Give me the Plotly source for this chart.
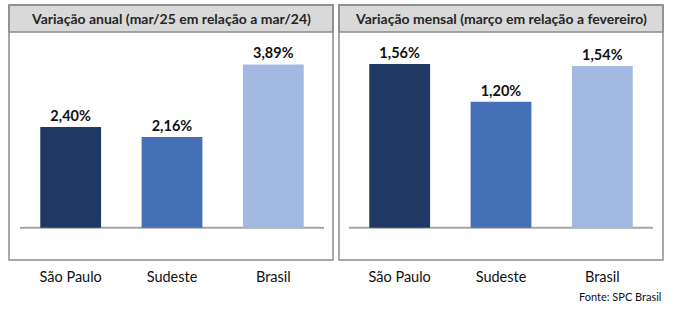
import plotly.graph_objects as go

# Data
regions = ["São Paulo", "Sudeste", "Brasil"]
annual_change = [2.40, 2.16, 3.89]
monthly_change = [1.56, 1.20, 1.54]
bar_colors = ["#203864", "#4470b8", "#a3b9e1"]
titles = ["Variação anual (mar/25 em relação a mar/24)",
          "Variação mensal (março em relação a fevereiro)"]
source_note = "Fonte: SPC Brasil"

W, H = 685, 322
FONT = "Lato"


def px_x(v):
    return v / W


def px_y(v):
    return 1 - v / H


def fmt(v):
    return f"{v:.2f}%".replace(".", ",")


fig = go.Figure()

panels = [
    # (values, box left, box right, axis left, axis right, y range)
    (annual_change, 9, 333, 20, 324, [-0.770, 4.664]),
    (monthly_change, 339, 663, 349, 653, [-0.3076, 1.864]),
]

box_top, head_bottom, box_bottom = 5, 32, 260

for i, (vals, bl, br, al, ar, yr) in enumerate(panels, start=1):
    xa = "x" if i == 1 else f"x{i}"
    ya = "y" if i == 1 else f"y{i}"
    fig.add_trace(go.Bar(
        x=regions, y=vals, xaxis=xa, yaxis=ya,
        marker=dict(color=bar_colors, line=dict(width=0)),
        width=0.6,
        text=[fmt(v) for v in vals],
        textposition="outside",
        textfont=dict(family=FONT, size=14.5, color="#111111", weight="bold"),
        cliponaxis=False,
        showlegend=False,
        hoverinfo="skip",
    ))
    xkey = "xaxis" if i == 1 else f"xaxis{i}"
    ykey = "yaxis" if i == 1 else f"yaxis{i}"
    fig.update_layout({
        xkey: dict(domain=[px_x(al), px_x(ar)], range=[-0.5, 2.5],
                   anchor=ya, showgrid=False, zeroline=False, showline=False,
                   ticks="", ticklabelstandoff=6,
                   tickfont=dict(family=FONT, size=14.5, color="#111111")),
        ykey: dict(domain=[px_y(box_bottom), px_y(head_bottom)], range=yr,
                   anchor=xa, visible=False, showgrid=False, zeroline=False),
    })
    # zero baseline
    fig.add_shape(type="line", xref=xa, yref=ya, x0=-0.5, x1=2.5, y0=0, y1=0,
                  line=dict(color="#a6a6a6", width=2), layer="below")
    # title band
    fig.add_shape(type="rect", xref="paper", yref="paper",
                  x0=px_x(bl), x1=px_x(br), y0=px_y(head_bottom), y1=px_y(box_top),
                  fillcolor="#d9d9d9", line=dict(color="#8c8c8c", width=1.5),
                  layer="below")
    # panel frame
    fig.add_shape(type="rect", xref="paper", yref="paper",
                  x0=px_x(bl), x1=px_x(br), y0=px_y(box_bottom), y1=px_y(box_top),
                  fillcolor="rgba(0,0,0,0)", line=dict(color="#8c8c8c", width=1.5),
                  layer="below")
    fig.add_annotation(text=f"<b>{titles[i - 1]}</b>", xref="paper", yref="paper",
                       x=px_x((bl + br) / 2), y=px_y((box_top + head_bottom) / 2),
                       xanchor="center", yanchor="middle", showarrow=False,
                       font=dict(family=FONT, size=14, color="#262626"))

fig.add_annotation(text=source_note, xref="paper", yref="paper",
                   x=px_x(663), y=px_y(296), xanchor="right", yanchor="middle",
                   showarrow=False, font=dict(family=FONT, size=11, color="#111111"))

fig.update_layout(
    width=W, height=H,
    margin=dict(l=0, r=0, t=0, b=0),
    paper_bgcolor="white", plot_bgcolor="rgba(0,0,0,0)",
    bargap=0.4,
)

fig.write_html("out.html", config={"displayModeBar": False})
